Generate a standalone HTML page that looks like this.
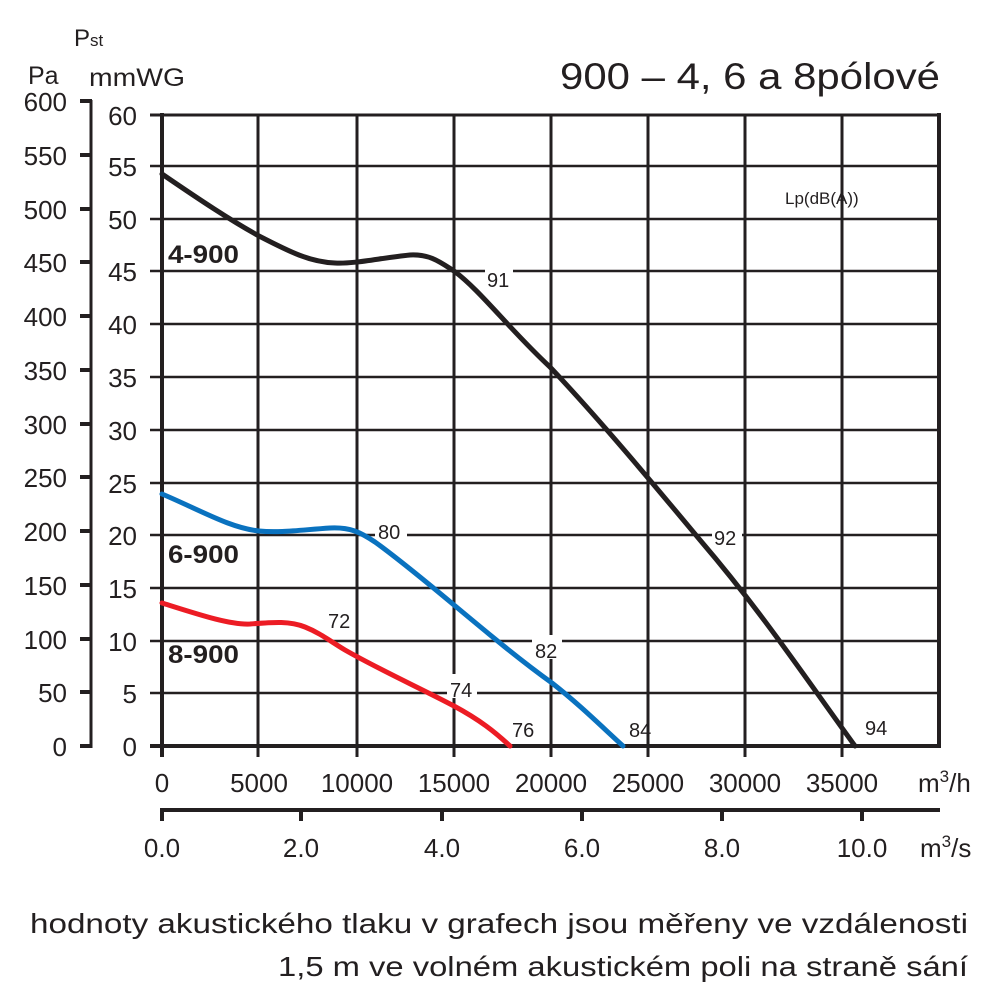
<!DOCTYPE html><html><head><meta charset="utf-8"><style>body{margin:0;background:#fff}svg{display:block}text{font-family:"Liberation Sans",sans-serif;fill:#231f20}</style></head><body>
<svg width="1000" height="1000" viewBox="0 0 1000 1000">
<g stroke="#231f20" fill="none">
<g stroke-width="2.5">
<line x1="150" y1="166" x2="940" y2="166"/><line x1="150" y1="219" x2="940" y2="219"/><line x1="150" y1="271" x2="940" y2="271"/><line x1="150" y1="324" x2="940" y2="324"/><line x1="150" y1="377" x2="940" y2="377"/><line x1="150" y1="430" x2="940" y2="430"/><line x1="150" y1="483" x2="940" y2="483"/><line x1="150" y1="535" x2="940" y2="535"/><line x1="150" y1="588" x2="940" y2="588"/><line x1="150" y1="641" x2="940" y2="641"/><line x1="150" y1="693" x2="940" y2="693"/>
</g>
<g stroke-width="3">
<line x1="258" y1="115" x2="258" y2="757"/><line x1="357" y1="115" x2="357" y2="757"/><line x1="454" y1="115" x2="454" y2="757"/><line x1="551" y1="115" x2="551" y2="757"/><line x1="648" y1="115" x2="648" y2="757"/><line x1="745" y1="115" x2="745" y2="757"/><line x1="842" y1="115" x2="842" y2="757"/>
</g>
<line x1="150" y1="115" x2="941" y2="115" stroke-width="3"/>
<line x1="162" y1="113" x2="162" y2="757" stroke-width="4"/>
<line x1="939" y1="113" x2="939" y2="748" stroke-width="4"/>
<line x1="150" y1="746" x2="941" y2="746" stroke-width="4"/>
<line x1="91" y1="100" x2="91" y2="748" stroke-width="3"/>
<g stroke-width="4"><line x1="80" y1="101" x2="92" y2="101"/><line x1="80" y1="155" x2="92" y2="155"/><line x1="80" y1="209" x2="92" y2="209"/><line x1="80" y1="262" x2="92" y2="262"/><line x1="80" y1="316" x2="92" y2="316"/><line x1="80" y1="370" x2="92" y2="370"/><line x1="80" y1="424" x2="92" y2="424"/><line x1="80" y1="477" x2="92" y2="477"/><line x1="80" y1="531" x2="92" y2="531"/><line x1="80" y1="585" x2="92" y2="585"/><line x1="80" y1="639" x2="92" y2="639"/><line x1="80" y1="692" x2="92" y2="692"/><line x1="80" y1="746" x2="92" y2="746"/></g>
<line x1="160" y1="810" x2="940" y2="810" stroke-width="4"/>
<g stroke-width="4"><line x1="162" y1="808" x2="162" y2="821"/><line x1="301" y1="808" x2="301" y2="821"/><line x1="442" y1="808" x2="442" y2="821"/><line x1="582" y1="808" x2="582" y2="821"/><line x1="722" y1="808" x2="722" y2="821"/><line x1="862" y1="808" x2="862" y2="821"/></g>
</g>
<g fill="#fff"><rect x="485" y="264" width="28" height="24"/><rect x="712" y="522" width="30" height="24"/><rect x="375" y="516" width="32" height="24"/><rect x="532" y="635" width="30" height="24"/><rect x="325" y="605" width="30" height="24"/><rect x="447" y="674" width="30" height="24"/></g>
<g fill="none" stroke-linecap="round" stroke-width="5">
<path stroke="#231f20" d="M162,174 C200,200 230,220 259,236 C290,252 310,262 335,263 C355,264 380,258 410,255 C430,254 440,262 454,271 C480,290 510,330 550,367 C600,420 650,480 700,540 C760,610 800,670 855,746"/>
<path stroke="#0a72bf" d="M162,494 C200,510 230,528 259,531 C280,533 300,530 330,528 C350,527 360,532 375,542 C400,560 430,585 454,605 C490,635 520,660 552,683 C580,705 600,725 623,746"/>
<path stroke="#ec1c24" d="M162,603 C200,615 230,625 250,624 C275,622 290,621 305,627 C320,633 330,641 345,650 C380,670 420,688 454,706 C480,720 495,732 510,746"/>
</g>
<g font-size="20" fill="#231f20"><text x="487" y="287">91</text><text x="714" y="545">92</text><text x="865" y="735">94</text><text x="378" y="539">80</text><text x="535" y="658">82</text><text x="629" y="737">84</text><text x="328" y="628">72</text><text x="450" y="697">74</text><text x="512" y="737">76</text></g>
<text x="785" y="204" font-size="17">Lp(dB(A))</text>
<g font-size="25" font-weight="bold"><text x="168" y="263" textLength="71" lengthAdjust="spacingAndGlyphs">4-900</text><text x="168" y="563" textLength="71" lengthAdjust="spacingAndGlyphs">6-900</text><text x="168" y="663" textLength="71" lengthAdjust="spacingAndGlyphs">8-900</text></g>
<g font-size="26" text-anchor="end">
<text x="67" y="111">600</text><text x="67" y="165">550</text><text x="67" y="219">500</text><text x="67" y="272">450</text><text x="67" y="326">400</text><text x="67" y="380">350</text><text x="67" y="434">300</text><text x="67" y="487">250</text><text x="67" y="541">200</text><text x="67" y="595">150</text><text x="67" y="649">100</text><text x="67" y="702">50</text><text x="67" y="756">0</text>
<text x="137" y="125">60</text><text x="137" y="176">55</text><text x="137" y="229">50</text><text x="137" y="281">45</text><text x="137" y="334">40</text><text x="137" y="387">35</text><text x="137" y="440">30</text><text x="137" y="493">25</text><text x="137" y="545">20</text><text x="137" y="598">15</text><text x="137" y="651">10</text><text x="137" y="703">5</text><text x="137" y="756">0</text>
</g>
<g font-size="26" text-anchor="middle">
<text x="162" y="792">0</text><text x="259" y="792">5000</text><text x="357" y="792">10000</text><text x="454" y="792">15000</text><text x="551" y="792">20000</text><text x="648" y="792">25000</text><text x="745" y="792">30000</text><text x="842" y="792">35000</text>
<text x="162" y="857">0.0</text><text x="301" y="857">2.0</text><text x="442" y="857">4.0</text><text x="582" y="857">6.0</text><text x="722" y="857">8.0</text><text x="862" y="857">10.0</text>
</g>
<text x="918" y="792" font-size="26">m<tspan font-size="17" dy="-10">3</tspan><tspan dy="10">/h</tspan></text>
<text x="920" y="857" font-size="26">m<tspan font-size="17" dy="-10">3</tspan><tspan dy="10">/s</tspan></text>
<text x="28" y="84" font-size="25">Pa</text>
<text x="74" y="46" font-size="24" fill="#3d2b1f">P<tspan font-size="17">st</tspan></text>
<text x="89" y="86" font-size="25" fill="#1d4f8c" textLength="96" lengthAdjust="spacingAndGlyphs">mmWG</text>
<text x="560" y="89" font-size="37" textLength="380" lengthAdjust="spacingAndGlyphs">900 – 4, 6 a 8pólové</text>
<g font-size="28"><text x="30" y="933" textLength="938" lengthAdjust="spacingAndGlyphs">hodnoty akustického tlaku v grafech jsou měřeny ve vzdálenosti</text><text x="278" y="976" textLength="690" lengthAdjust="spacingAndGlyphs">1,5 m ve volném akustickém poli na straně sání</text></g>
</svg></body></html>
